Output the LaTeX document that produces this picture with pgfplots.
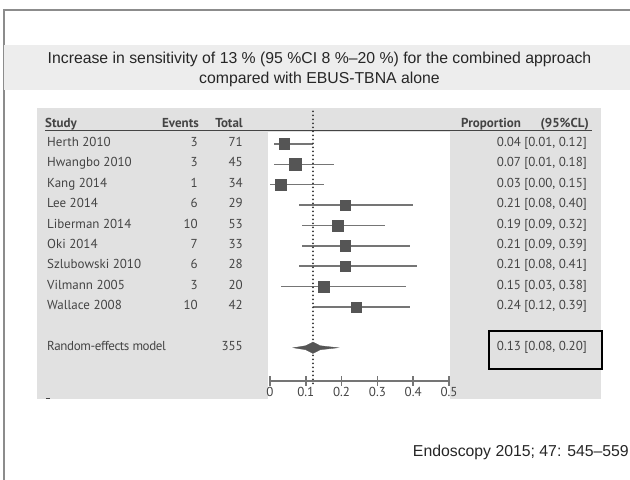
\documentclass[border=0pt]{standalone}
\usepackage{pgfplots}
\pgfplotsset{compat=1.18}
\usepackage{pgfplotstable}
\usepackage{fontspec}
\setmainfont{Liberation Sans}
\newfontfamily\tfont{PT Sans}
\definecolor{framegray}{HTML}{8C8C8C}
\definecolor{bandgray}{HTML}{EDEDED}
\definecolor{panelgray}{HTML}{E1E1E1}
\definecolor{txtgray}{HTML}{444444}
\definecolor{boxgray}{HTML}{555555}
\definecolor{cigray}{HTML}{757575}

% row = position in forest plot, p = proportion, lo/hi = 95% CL, s = half side of box (bp)
\pgfplotstableread{
row p    lo   hi   s
0   0.04 0.01 0.12 5.3
1   0.07 0.01 0.18 5.7
2   0.03 0.00 0.15 5.5
3   0.21 0.08 0.40 4.8
4   0.19 0.09 0.32 5.5
5   0.21 0.09 0.39 5.3
6   0.21 0.08 0.41 5.3
7   0.15 0.03 0.38 5.5
8   0.24 0.12 0.39 5.0
}\studies

\newcommand{\tsz}{\tfont\fontsize{13bp}{15bp}\selectfont}

\begin{document}
\begin{tikzpicture}[x=1bp,y=1bp]
\useasboundingbox (0,0) rectangle (630,480);
\fill[white] (0,0) rectangle (630,480);
% slide frame
\draw[framegray, line width=1.5bp] (4,0) -- (4,470) -- (630,470);
% title band
\fill[bandgray] (4,390) rectangle (630,435);
\node[align=center, font=\fontsize{15.8bp}{20bp}\selectfont, text=black!85] at (319.5,411)
  {Increase in sensitivity of 13 \% (95 \%CI 8 \%--20 \%) for the combined approach\\compared with EBUS-TBNA alone};
% panel
\fill[panelgray] (37,81) rectangle (601,372);
\fill[white] (268,81) rectangle (450,348);
\draw[txtgray, line width=1bp] (45,349) -- (592,349);
\draw[txtgray, line width=1bp] (46,81) -- (50,81);
% header
\begin{scope}[every node/.style={font=\tsz\bfseries, text=txtgray, inner sep=0pt}]
\node[anchor=mid west] at (45,355) {Study};
\node[anchor=mid east] at (199,355) {Events};
\node[anchor=mid east] at (243,355) {Total};
\node[anchor=mid west] at (461,355) {Proportion};
\node[anchor=mid east] at (589,355) {(95\%CL)};
\end{scope}
% table rows
\begin{scope}[every node/.style={font=\tsz, text=txtgray, inner sep=0pt}]
\foreach \name/\ev/\tot/\ci [count=\i from 0] in {
  Herth 2010/3/71/{0.04 [0.01, 0.12]},
  Hwangbo 2010/3/45/{0.07 [0.01, 0.18]},
  Kang 2014/1/34/{0.03 [0.00, 0.15]},
  Lee 2014/6/29/{0.21 [0.08, 0.40]},
  Liberman 2014/10/53/{0.19 [0.09, 0.32]},
  Oki 2014/7/33/{0.21 [0.09, 0.39]},
  Szlubowski 2010/6/28/{0.21 [0.08, 0.41]},
  Vilmann 2005/3/20/{0.15 [0.03, 0.38]},
  Wallace 2008/10/42/{0.24 [0.12, 0.39]}}{
  \pgfmathsetmacro{\yy}{336-20.375*\i}
  \node[anchor=mid west] at (47,\yy) {\name};
  \node[anchor=mid east] at (198,\yy) {\ev};
  \node[anchor=mid east] at (243,\yy) {\tot};
  \node[anchor=mid east] at (587,\yy) {\ci};
}
\node[anchor=mid west] at (47,132) {\addfontfeature{LetterSpace=-3}Random-effects model};
\node[anchor=mid east] at (243,132) {355};
\node[anchor=mid east] at (587,132) {0.13 [0.08, 0.20]};
\end{scope}
\draw[black, line width=1.5bp] (489,111) rectangle (602,149);
% source
\node[anchor=mid east, font=\fontsize{15.8bp}{18bp}\selectfont, text=black!85, inner sep=0pt] at (629,26) {Endoscopy 2015; 47: 545--559};

% forest plot
\begin{axis}[at={(0bp,0bp)}, anchor=south west, scale only axis, width=630bp, height=480bp,
  xmin=-0.754190, xmax=1.005587, ymin=-7.06748, ymax=16.4908, y dir=reverse,
  hide axis, clip=false]
\addplot[draw=none, mark=none, error bars/.cd, x dir=both, x explicit,
  error mark=none, error bar style={cigray, line width=1.5bp}]
  table[x=p, y=row, x error plus expr=\thisrow{hi}-\thisrow{p},
        x error minus expr=\thisrow{p}-\thisrow{lo}] {\studies};
\addplot[line width=2bp, line cap=round, dash pattern=on 0bp off 4bp, black!80]
  coordinates {(0.12,-1.6) (0.12,11.75)};
\addplot[only marks, mark=square*, scatter, point meta=explicit,
  scatter/use mapped color={draw=boxgray, fill=boxgray},
  visualization depends on={\thisrow{s} \as \msize},
  scatter/@pre marker code/.append style={/tikz/mark size=\msize bp}]
  table[x=p, y=row, meta=row] {\studies};
\addplot[fill=boxgray, draw=boxgray, line width=0.3bp]
  coordinates {(0.065,10) (0.10,9.9) (0.12,9.72) (0.14,9.9) (0.19,10) (0.14,10.1) (0.12,10.28) (0.10,10.1)} -- cycle;
\end{axis}

% scale axis
\begin{axis}[at={(270bp,99bp)}, anchor=south west, scale only axis, width=179bp, height=20bp,
  xmin=0, xmax=0.5, ymin=0, ymax=1,
  axis x line*=bottom, axis y line=none,
  x axis line style={cigray, line width=1.5bp},
  xtick={0,0.1,0.2,0.3,0.4,0.5}, xticklabels={0,0.1,0.2,0.3,0.4,0.5},
  tick align=center, major tick length=10bp,
  every tick/.style={cigray, line width=1.5bp},
  xticklabel style={font=\tsz, text=txtgray, inner sep=1bp}]
\end{axis}
\end{tikzpicture}
\end{document}
